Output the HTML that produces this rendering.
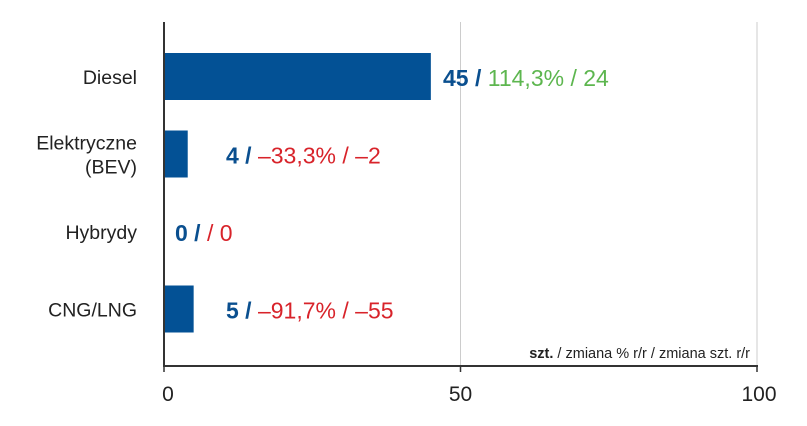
<!DOCTYPE html>
<html><head><meta charset="utf-8"><style>
body{margin:0;background:#fff;}
svg{font-family:"Liberation Sans",sans-serif;}
</style></head><body>
<svg width="807" height="421">
<g id="g"></g>
</svg>
<script>
const categories=["Diesel","Elektryczne|(BEV)","Hybrydy","CNG/LNG"];
const values=[45,4,0,5];
const pctLabels=["114,3%","–33,3%","","–91,7%"];
const diffLabels=["24","–2","0","–55"];
const positive=[true,false,false,false];
const ticks=[0,50,100];
const labelX=[443,226,175,226];
const ns="http://www.w3.org/2000/svg";
const g=document.getElementById('g');
const x0=164,x1=757,yTop=22,yBot=366;
const xs=v=>x0+(x1-x0)*v/100;
const yc=i=>77+i*77.5;
function mk(t,a){const e=document.createElementNS(ns,t);for(const k in a)e.setAttribute(k,a[k]);g.appendChild(e);return e;}
ticks.forEach((t,i)=>{
 if(t>0){const l=mk('line',{x1:xs(t),x2:xs(t),y1:yTop,y2:yBot,stroke:'#ccc','stroke-width':1});
 
 }
 const tk=mk('line',{x1:xs(t),x2:xs(t),y1:yBot,y2:yBot+6,stroke:'#333','stroke-width':1.5});
 
 
 const tl=mk('text',{x:xs(t)+(i==0?4:(i==2?2:0)),y:401,'text-anchor':'middle','font-size':21,fill:'#222'});
 tl.textContent=t;
 
 
});
categories.forEach((c,i)=>{
 const y=yc(i);
 const b=mk('rect',{x:x0,y:y-24,width:xs(values[i])-x0,height:47,fill:'#035195'});
 
 
 const parts=c.split('|');
 const t=mk('text',{x:137,'text-anchor':'end','font-size':19.5,fill:'#222'});
 
 
 parts.forEach((p,j)=>{const s=document.createElementNS(ns,'tspan');s.setAttribute('x',137);s.setAttribute('y',y+7+(j-(parts.length-1)/2)*24);s.textContent=p;t.appendChild(s);});
 const v=mk('text',{x:labelX[i],y:y+9,'font-size':23});
 
 
 const col=positive[i]?'#5db64f':'#d8232a';
 const s1=document.createElementNS(ns,'tspan');s1.setAttribute('fill','#0a4f8f');s1.setAttribute('font-weight','bold');s1.textContent=values[i]+' / ';v.appendChild(s1);
 const s2=document.createElementNS(ns,'tspan');s2.setAttribute('fill',col);
 s2.textContent=(pctLabels[i]?pctLabels[i]+' / ':' / ')+diffLabels[i];v.appendChild(s2);
});
const ax=mk('line',{x1:x0,x2:x0,y1:yTop,y2:yBot,stroke:'#333','stroke-width':2});


const bx=mk('line',{x1:x0-1,x2:x1+1,y1:yBot,y2:yBot,stroke:'#333','stroke-width':2});


const note=mk('text',{x:750,y:358,'text-anchor':'end','font-size':14.5,fill:'#222'});


note.innerHTML='<tspan font-weight="bold">szt.</tspan> / zmiana % r/r / zmiana szt. r/r';
</script>
</body></html>
